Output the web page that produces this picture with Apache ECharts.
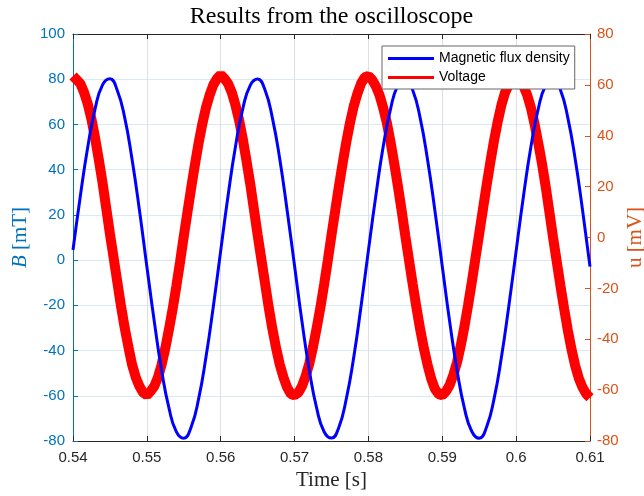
<!DOCTYPE html>
<html>
<head>
<meta charset="utf-8">
<script src="https://cdn.jsdelivr.net/npm/echarts@6/dist/echarts.min.js"></script>
<style>html,body{margin:0;padding:0;background:#fff}#c{width:644px;height:496px}</style>
</head>
<body>
<div id="c"></div>
<script>
// Time axis (milliseconds internally, shown in seconds)
const xTicks = [540, 550, 560, 570, 580, 590, 600, 610];
const leftTicks = [-80, -60, -40, -20, 0, 20, 40, 60, 80, 100];
const rightTicks = [-80, -60, -40, -20, 0, 20, 40, 60, 80];

// Magnetic flux density B [mT], sampled every 1 ms from 540 ms
const bStartMs = 540, bStepMs = 1;
const fluxB = [
  4.5, 28.5, 50.0, 67.0, 77.5, 80.2, 75.0, 63.0, 44.5, 22.0,
  -2.8, -27.0, -48.8, -65.5, -76.0, -78.8, -73.8, -61.5, -43.0, -20.5,
  4.2, 28.6, 50.3, 67.1, 77.3, 80.1, 75.2, 62.8, 44.6, 21.8,
  -2.6, -27.1, -48.8, -65.6, -75.9, -78.7, -73.9, -61.4, -43.2, -20.4,
  4.3, 28.4, 50.2, 66.9, 77.4, 80.2, 75.1, 62.9, 44.5, 21.9,
  -2.8, -27.2, -48.7, -65.6, -75.8, -78.8, -73.8, -61.5, -43.1, -20.5,
  4.1, 28.5, 50.1, 67.0, 77.3, 80.0, 75.2, 62.9, 44.6, 21.9,
  -2.9
];

// Voltage u [mV], sampled every 0.5 ms from 540 ms
const uStartMs = 540, uStepMs = 0.5;
const voltageU = [
  63.5, 62.0, 60.5, 57.0, 52.5, 46.5, 39.0, 30.5, 21.5, 11.5,
  1.5, -8.0, -17.5, -27.0, -35.5, -43.0, -50.0, -55.0, -58.5, -61.0,
  -62.0, -60.5, -58.5, -55.0, -50.0, -43.5, -36.0, -28.0, -19.0, -9.5,
  0.5, 10.0, 19.5, 28.5, 37.0, 44.5, 51.0, 56.0, 60.0, 62.5,
  64.0, 62.5, 60.5, 57.0, 52.0, 46.0, 38.5, 30.0, 21.0, 11.0,
  1.0, -8.5, -18.0, -27.5, -36.0, -43.5, -50.0, -55.0, -59.0, -61.5,
  -62.0, -61.0, -58.5, -54.5, -49.5, -43.0, -35.5, -27.5, -18.5, -9.0,
  1.0, 10.5, 20.0, 29.0, 37.5, 45.0, 51.5, 56.5, 60.5, 63.0,
  63.5, 62.0, 59.5, 56.0, 51.0, 45.0, 37.5, 29.0, 20.0, 10.5,
  0.5, -9.0, -18.5, -27.5, -36.0, -43.5, -50.0, -55.5, -59.5, -61.5,
  -62.0, -60.5, -58.0, -54.0, -49.0, -42.5, -35.0, -26.5, -17.5, -8.0,
  1.5, 11.0, 20.5, 29.5, 38.0, 45.5, 52.0, 57.0, 60.0, 61.5,
  62.0, 61.5, 59.5, 56.0, 51.0, 44.5, 37.0, 29.0, 20.0, 10.0,
  0.0, -9.5, -19.0, -28.0, -36.5, -44.0, -50.5, -55.5, -59.0, -61.5,
  -63.0
];

const seriesNames = ['Magnetic flux density', 'Voltage'];

const bData = fluxB.map((v, i) => [bStartMs + i * bStepMs, v]);
const uData = voltageU.map((v, i) => [uStartMs + i * uStepMs, v]);

const chart = echarts.init(document.getElementById('c'), null, {renderer: 'canvas'});
const sans = 'Liberation Sans, Arial, sans-serif';
const serif = 'Liberation Serif, Times New Roman, serif';
const dark = '#262626';
const blueAx = '#0072BD';
const orangeAx = '#D95319';

chart.setOption({
  animation: false,
  backgroundColor: '#ffffff',
  graphic: [{
    type: 'text', x: 331.5, y: 17, z: 10,
    style: {text: 'Results from the oscilloscope', font: '24px ' + serif, fill: '#000', textAlign: 'center', textVerticalAlign: 'middle'}
  }],
  grid: {left: 73, right: 54, top: 34, bottom: 55, containLabel: false, outerBoundsMode: 'none'},
  legend: {
    data: seriesNames,
    orient: 'vertical', left: 382, top: 46,
    padding: [4, 5, 3, 6], itemGap: 2,
    itemWidth: 46, itemHeight: 3, icon: 'rect',
    backgroundColor: '#ffffff', borderColor: '#666666', borderWidth: 1,
    textStyle: {fontFamily: sans, fontSize: 14, color: '#000', lineHeight: 17}
  },
  xAxis: [{
    type: 'value', min: xTicks[0], max: xTicks[xTicks.length - 1], interval: 10, position: 'bottom',
    axisLine: {show: true, onZero: false, lineStyle: {color: dark, width: 1}},
    axisTick: {show: true, inside: true, length: 5, lineStyle: {color: dark}},
    axisLabel: {formatter: v => String(v / 1000), color: dark, fontSize: 15, fontFamily: sans, margin: 9},
    splitLine: {show: true, lineStyle: {color: '#dfdfdf', width: 1}},
    name: 'Time [s]', nameLocation: 'middle', nameGap: 29, nameMoveOverlap: false,
    nameTextStyle: {fontFamily: serif, fontSize: 21, color: dark}
  }, {
    type: 'value', min: xTicks[0], max: xTicks[xTicks.length - 1], interval: 10, position: 'top',
    axisLine: {show: true, onZero: false, lineStyle: {color: dark, width: 1}},
    axisTick: {show: true, inside: true, length: 5, lineStyle: {color: dark}},
    axisLabel: {show: false}, splitLine: {show: false}
  }],
  yAxis: [{
    type: 'value', min: leftTicks[0], max: leftTicks[leftTicks.length - 1], interval: 20, position: 'left',
    axisLine: {show: true, onZero: false, lineStyle: {color: blueAx, width: 1}},
    axisTick: {show: true, inside: true, length: 5, lineStyle: {color: blueAx}},
    axisLabel: {color: blueAx, fontSize: 15, fontFamily: sans, margin: 8},
    splitLine: {show: true, lineStyle: {color: '#d9eaf5', width: 1}},
    name: '{i|B} [mT]', nameLocation: 'middle', nameGap: 53, nameRotate: 90, nameMoveOverlap: false,
    nameTextStyle: {fontFamily: serif, fontSize: 21, color: blueAx, align: 'center', verticalAlign: 'middle',
      rich: {i: {fontFamily: serif, fontSize: 21, fontStyle: 'italic', color: blueAx}}}
  }, {
    type: 'value', min: rightTicks[0], max: rightTicks[rightTicks.length - 1], interval: 20, position: 'right',
    axisLine: {show: true, onZero: false, lineStyle: {color: orangeAx, width: 1}},
    axisTick: {show: true, inside: true, length: 5, lineStyle: {color: orangeAx}},
    axisLabel: {color: orangeAx, fontSize: 15, fontFamily: sans, margin: 7},
    splitLine: {show: false},
    name: 'u [mV]', nameLocation: 'middle', nameGap: 45, nameRotate: 90, nameMoveOverlap: false,
    nameTextStyle: {fontFamily: serif, fontSize: 21, color: orangeAx, align: 'center', verticalAlign: 'middle'}
  }],
  series: [{
    name: seriesNames[0], type: 'line', xAxisIndex: 0, yAxisIndex: 0,
    data: bData, symbol: 'none', smooth: true, z: 3,
    lineStyle: {color: '#0000FF', width: 3}, itemStyle: {color: '#0000FF'}
  }, {
    name: seriesNames[1], type: 'line', xAxisIndex: 0, yAxisIndex: 1,
    data: uData, symbol: 'none', smooth: false, z: 2,
    lineStyle: {color: '#FF0000', width: 10, join: 'bevel'}, itemStyle: {color: '#FF0000'}
  }]
});
</script>
</body>
</html>
